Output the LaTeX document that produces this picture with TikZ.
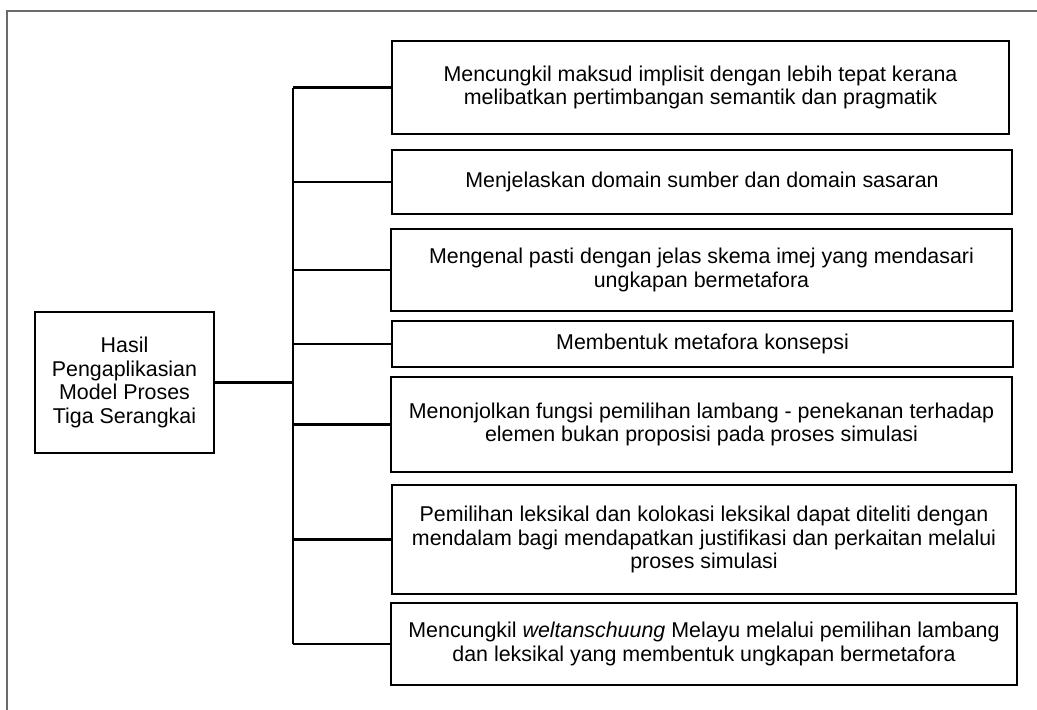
\documentclass[tikz,border=0pt]{standalone}
\usepackage{fontspec}
\setmainfont{Liberation Sans}
\begin{document}
\begin{tikzpicture}[x=1pt,y=-1pt,
  box/.style={draw=black, line width=2.6pt, inner sep=0pt, align=center,
    font=\fontsize{21.4}{23.5}\selectfont},
  conn/.style={draw=black, line width=2.4pt},
  frame/.style={draw=black!58, line width=1.8pt}]
\useasboundingbox (0,0) rectangle (1037,710);
\draw[frame] (7,712) -- (7,11) -- (1040,11);
\node[box, minimum width=179pt, minimum height=141pt] (root) at (124.5,382.5)
  {Hasil\\Pengaplikasian\\Model Proses\\Tiga Serangkai};
\node[box, minimum width=617pt, minimum height=93pt] (b1) at (700.5,87.5)
  {Mencungkil maksud implisit dengan lebih tepat kerana\\melibatkan pertimbangan semantik dan pragmatik};
\node[box, minimum width=620pt, minimum height=64pt] (b2) at (702,182)
  {Menjelaskan domain sumber dan domain sasaran};
\node[box, minimum width=621pt, minimum height=82pt] (b3) at (701.5,270)
  {Mengenal pasti dengan jelas skema imej yang mendasari\\ungkapan bermetafora};
\node[box, minimum width=621pt, minimum height=46pt] (b4) at (702.5,344)
  {Membentuk metafora konsepsi};
\node[box, minimum width=621pt, minimum height=95pt] (b5) at (701.5,424.5)
  {Menonjolkan fungsi pemilihan lambang - penekanan terhadap\\elemen bukan proposisi pada proses simulasi};
\node[box, minimum width=624pt, minimum height=109pt] (b6) at (704,539.5)
  {Pemilihan leksikal dan kolokasi leksikal dapat diteliti dengan\\mendalam bagi mendapatkan justifikasi dan perkaitan melalui\\proses simulasi};
\node[box, minimum width=626pt, minimum height=82pt] (b7) at (704,644)
  {Mencungkil \textit{weltanschuung} Melayu melalui pemilihan lambang\\dan leksikal yang membentuk ungkapan bermetafora};
\coordinate (tr) at (293,0);
\draw[conn, line width=2.8pt] (b1.west -| tr) -- (b7.west -| tr);
\foreach \b in {b1,b2,b3,b4,b5,b6,b7}
  \draw[conn] (\b.west) -- (\b.west -| tr);
\draw[conn, line width=3.4pt] (root.east) -- (root.east -| tr);
\end{tikzpicture}
\end{document}
